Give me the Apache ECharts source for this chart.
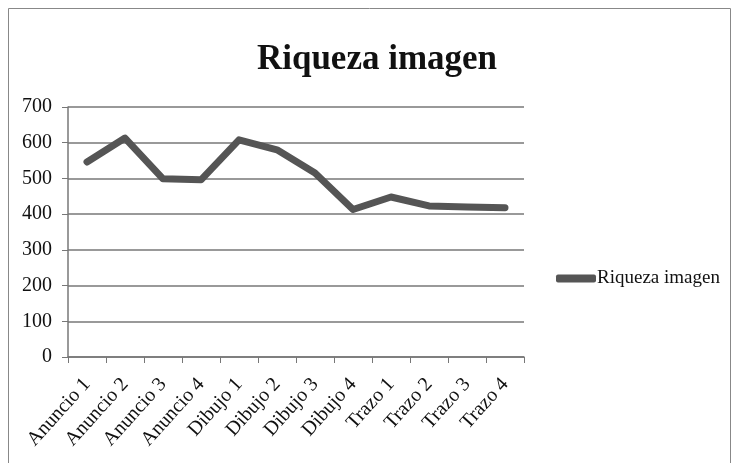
<!DOCTYPE html>
<html>
<head>
<meta charset="utf-8">
<script src="https://cdn.jsdelivr.net/npm/echarts@6/dist/echarts.min.js"></script>
<style>
  html, body { margin: 0; padding: 0; background: #fff; }
  #main { width: 738px; height: 463px; }
</style>
</head>
<body>
<div id="main"></div>
<script>
var categories = ['Anuncio 1', 'Anuncio 2', 'Anuncio 3', 'Anuncio 4', 'Dibujo 1', 'Dibujo 2',
                  'Dibujo 3', 'Dibujo 4', 'Trazo 1', 'Trazo 2', 'Trazo 3', 'Trazo 4'];
var riqueza = [546, 613, 499, 496, 608, 580, 515, 413, 448, 423, 420, 418];
var seriesName = 'Riqueza imagen';

var fontFam = '"Liberation Serif", "DejaVu Serif", serif';
var chart = echarts.init(document.getElementById('main'));
var option = {
    backgroundColor: '#fff',
    animation: false,
    title: {
        text: 'Riqueza imagen',
        left: 372,
        top: 37,
        textAlign: 'center',
        textStyle: { fontFamily: fontFam, fontWeight: 'bold', fontSize: 35, color: '#111' }
    },
    legend: {
        left: 551,
        top: 264,
        itemWidth: 40,
        itemHeight: 8,
        itemGap: 2,
        icon: 'roundRect',
        textStyle: { fontFamily: fontFam, fontSize: 19, color: '#111', padding: [0, 0, 0, -4] },
        data: [seriesName]
    },
    grid: { left: 68, top: 107, width: 456, height: 250, containLabel: false },
    xAxis: {
        type: 'category',
        data: categories,
        boundaryGap: true,
        axisLine: { lineStyle: { color: '#777', width: 1.5 } },
        axisTick: { show: true, length: 6, lineStyle: { color: '#777' } },
        axisLabel: { rotate: 48, margin: 24, fontFamily: fontFam, fontSize: 20, color: '#111', interval: 0 }
    },
    yAxis: {
        type: 'value',
        min: 0,
        max: 700,
        interval: 100,
        axisLine: { show: true, lineStyle: { color: '#777', width: 1.5 } },
        axisTick: { show: true, length: 6, lineStyle: { color: '#777' } },
        axisLabel: { margin: 16, fontFamily: fontFam, fontSize: 20, color: '#111' },
        splitLine: { lineStyle: { color: '#777', width: 1.5 } }
    },
    graphic: [{
        type: 'rect',
        shape: { x: 8.5, y: 8.5, width: 722, height: 470 },
        style: { fill: 'none', stroke: '#888', lineWidth: 1 },
        silent: true
    }],
    series: [{
        name: seriesName,
        type: 'line',
        data: riqueza,
        symbol: 'none',
        lineStyle: { color: '#555', width: 7, cap: 'round', join: 'round' },
        itemStyle: { color: '#555' }
    }]
};
chart.setOption(option);
</script>
</body>
</html>
